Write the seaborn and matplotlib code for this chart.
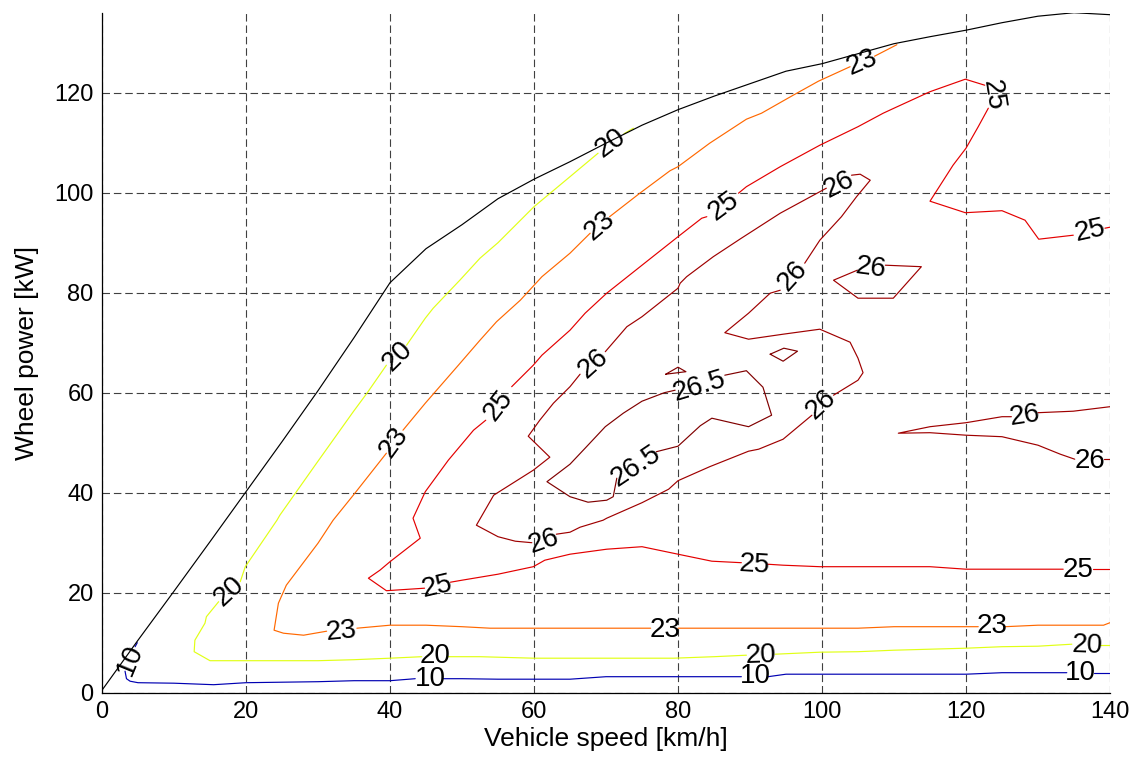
import numpy as np
import pandas as pd
import matplotlib
matplotlib.use("Agg")
import matplotlib.pyplot as plt
from matplotlib import colors as mcolors
import seaborn as sns

# ---------------- data ----------------
SPEED_LIM = [0, 140]
POWER_LIM = [0, 136]
X_TICKS = [0, 20, 40, 60, 80, 100, 120, 140]
Y_TICKS = [0, 20, 40, 60, 80, 100, 120]
X_LABEL = "Vehicle speed [km/h]"
Y_LABEL = "Wheel power [kW]"
LEVELS = [10, 20, 23, 25, 26, 26.5]
COLOR_RANGE = [9.2, 26.5]

# maximum wheel power curve
BOUND_X = [0, 5, 10, 15, 20, 25, 30, 35, 40, 45, 50, 55, 60, 65, 70, 75, 80,
           85, 90, 95, 100, 105, 110, 115, 120, 125, 130, 135, 140]
BOUND_Y = [0.5, 10.5, 20.3, 30.2, 40.2, 50.2, 60.4, 71.0, 82.0, 88.8, 93.6,
           98.8, 102.7, 106.2, 109.9, 113.5, 116.6, 119.3, 121.8, 124.3,
           125.8, 127.8, 129.8, 131.2, 132.5, 134.0, 135.3, 136.0, 135.6]

# contour pieces (vertices of each iso-efficiency line, broken where labelled)
C10 = [
    [(4.9, 10.0), (4.6, 9.2)],
    [(3.2, 4.3), (3.4, 2.8), (3.9, 2.3), (5, 2.0), (10, 1.9), (15.5, 1.6), (20, 2.0),
     (25, 2.1), (30, 2.2), (35, 2.4), (40, 2.4), (43.5, 2.8)],
    [(47.4, 2.8), (50, 2.8), (55, 2.7), (60, 2.7), (65, 2.7), (70, 3.2), (75, 3.2),
     (80, 3.2), (85, 3.2), (88.8, 3.2)],
    [(92.5, 3.2), (95, 3.7), (100, 3.7), (105, 3.7), (110, 3.7), (115, 3.7), (120, 3.7),
     (125, 4.0), (130, 4.0), (134, 4.0)],
    [(137.8, 4.0), (140, 4.0)],
]
C10_LABELS = [(3.9, 6.6), (45.6, 2.7), (90.7, 3.3), (135.9, 4.0)]

C20 = [
    [(73.8, 112.9), (72.5, 111.8)],
    [(68.9, 107.9), (65, 103.2), (60, 97.2), (55, 90.0), (52.5, 86.9), (49.7, 82.5),
     (46, 76.9), (44.9, 74.9), (42.3, 69.5)],
    [(39.5, 65.5), (36.8, 59.9), (34.9, 56.2), (29.8, 45.9), (24.7, 35.5), (24.3, 34.5),
     (19.9, 25.2), (19.2, 22.2)],
    [(16.2, 18.2), (14.5, 15.2), (14.3, 13.9), (12.9, 10.5), (12.8, 8.2), (15, 6.4),
     (20, 6.4), (25, 6.4), (30, 6.4), (35, 6.6), (40, 6.9), (44.4, 7.2)],
    [(48.1, 7.2), (52.5, 7.2), (60, 6.9), (70, 6.9), (79.4, 6.9), (85, 7.2), (89.5, 7.5)],
    [(93.5, 7.7), (99.7, 8.1), (105, 8.2), (110, 8.5), (120, 8.9), (125, 9.2),
     (130, 9.3), (134.7, 9.7)],
    [(138.6, 9.5), (140, 9.5)],
]
C20_LABELS = [(70.7, 109.9), (41.0, 67.3), (17.6, 20.2), (46.3, 7.4), (91.5, 7.4),
              (136.8, 9.4)]

C23 = [
    [(110.4, 129.6), (107.3, 127.3)],
    [(103.9, 125.2), (99.5, 122.3), (96, 119.5), (91.6, 115.9), (89.5, 114.7),
     (84.4, 109.9), (80, 105.2), (78.9, 104.4), (74.7, 99.9), (70.5, 95.2)],
    [(67.8, 91.9), (65, 87.9), (61.1, 83.2), (58.1, 78.5), (54.8, 74.2), (52.5, 70.5),
     (49.5, 65.5), (44.9, 57.9), (41.8, 52.5)],
    [(39.5, 47.9), (34.9, 39.5), (32.1, 34.5), (30, 29.9), (25.6, 21.5), (24.5, 17.9),
     (23.9, 12.5), (25.2, 11.9), (28, 11.5), (31.2, 12.3)],
    [(35.4, 12.9), (40, 13.5), (45, 13.5), (50, 13.2), (53.9, 12.9), (60, 12.9),
     (70, 12.9), (76.2, 12.9)],
    [(80, 12.9), (90, 12.9), (100, 12.9), (105, 12.9), (110, 13.2), (115, 13.2),
     (121.7, 13.2)],
    [(125.4, 13.2), (130, 13.5), (135, 13.5), (139.1, 13.5), (140, 14.0)],
]
C23_LABELS = [(105.6, 126.1), (69.2, 93.4), (40.6, 50.0), (33.3, 12.2), (78.2, 12.6),
              (123.6, 13.3)]

C25 = [
    [(140, 93.1), (139.3, 92.9)],
    [(134.9, 91.5), (130.1, 90.7), (128.2, 94.5), (125, 96.4), (119.9, 96.0),
     (115, 98.3), (118.2, 105.5), (120, 108.9), (121.7, 113.2), (123.1, 116.9)],
    [(122.6, 121.5), (119.9, 122.7), (115, 120.2), (110, 116.9), (108.5, 115.9),
     (105, 113.2), (99.7, 109.5), (94.2, 105.2), (89.5, 101.2), (88.4, 99.9)],
    [(84.0, 95.2), (83.3, 94.9), (80, 91.2), (75, 85.5), (70.1, 79.9), (67.1, 75.9),
     (65, 72.5), (61.1, 67.5), (59.9, 65.5), (56.9, 61.2)],
    [(53.3, 54.5), (51.6, 52.5), (48.1, 46.5), (44.9, 40.2), (43.2, 34.9), (44.2, 30.9),
     (40, 26.2), (38.6, 24.5), (37, 22.9), (39.5, 20.4), (44.8, 20.9)],
    [(48.4, 22.1), (50, 22.5), (55, 23.7), (59.9, 25.2), (61.5, 26.5), (65, 27.7),
     (70.1, 28.7), (75, 29.2), (80, 27.7), (84.7, 26.3), (88.8, 26.0)],
    [(92.4, 25.7), (94.6, 25.5), (99.7, 25.2), (105, 25.2), (110, 25.2), (115, 25.2),
     (120, 24.7), (125, 24.7), (130, 24.7), (133.5, 24.7)],
    [(137.7, 24.7), (140, 24.7)],
]
C25_LABELS = [(137.2, 92.3), (123.8, 119.6), (86.3, 97.4), (55.1, 57.5), (46.6, 21.3),
              (90.6, 25.5), (135.6, 24.5)]

C26 = [
    [(63.1, 31.7), (65, 32.1), (66.4, 33.1), (69.6, 34.5), (70.1, 34.9), (75, 38.0),
     (78.7, 40.7), (80, 42.4), (84.4, 45.2), (89.8, 48.3), (91.2, 48.7), (94.6, 50.7),
     (98.6, 55.5)],
    [(101.6, 59.5), (105, 62.5), (105.7, 64.0), (105, 66.9), (103.9, 70.1), (99.7, 72.7),
     (94.6, 71.7), (89.8, 70.7), (86.5, 72.0), (89.8, 75.9), (92.8, 79.9), (94.2, 80.5)],
    [(97.6, 85.9), (99.7, 90.5), (102.7, 95.2), (104.8, 99.2), (106.7, 102.5),
     (105.3, 103.7), (104.1, 103.5)],
    [(100.6, 100.9), (94.2, 95.9), (88.8, 90.9), (84.9, 87.2), (81.2, 83.2), (80.3, 81.9),
     (80, 80.9), (75, 75.2), (72.9, 73.2), (69.9, 68.2)],
    [(66.4, 63.7), (65, 61.2), (62.7, 57.9), (60.8, 54.5), (59.2, 51.3), (62.2, 47.1),
     (59.9, 44.5), (54.4, 39.5), (52, 33.5), (55, 31.2), (57.4, 30.3), (59.7, 30.0)],
    [(104.9, 84.5), (101.6, 82.5), (105, 78.9), (109.9, 78.9), (113.8, 85.2),
     (108.8, 85.5)],
    [(140, 57.2), (134.9, 56.3), (130, 56.0)],
    [(126.3, 55.2), (125, 55.2), (120, 54.0), (115, 53.2), (110.6, 51.9), (115, 52.0),
     (120, 51.5), (125, 51.2), (130, 49.5), (133.1, 47.7), (135.1, 46.7)],
    [(139.1, 46.7), (140, 46.7)],
]
C26_LABELS = [(61.4, 30.3), (99.9, 57.6), (95.9, 83.3), (102.4, 101.6), (68.2, 65.9),
              (106.8, 85.0), (128.2, 55.4), (137.2, 46.3)]

C265 = [
    [(86.5, 63.5), (89.5, 64.4), (91.8, 61.1), (93, 55.5), (89.8, 53.2), (84.7, 54.9),
     (83.1, 53.4), (80, 49.3), (77, 48.2)],
    [(71.5, 42.9), (71, 39.2), (70.1, 38.5), (67.5, 38.1), (65, 39.2), (61.8, 42.2),
     (65, 45.7), (67.1, 48.9), (69.9, 53.2), (72.4, 55.9), (75, 58.3), (78.1, 60.0),
     (79.6, 60.5)],
]
C265_LABELS = [(74.2, 45.3), (83.0, 61.3)]
C265_ISLANDS = [
    [(78.3, 63.7), (80, 65.1), (81.1, 64.2), (78.3, 63.7)],
    [(92.8, 67.7), (94.7, 68.9), (96.6, 68.3), (94.6, 66.3), (92.8, 67.7)],
]

CONTOURS = {10: (C10, [], C10_LABELS), 20: (C20, [], C20_LABELS),
            23: (C23, [], C23_LABELS), 25: (C25, [], C25_LABELS),
            26: (C26, [], C26_LABELS), 26.5: (C265, C265_ISLANDS, C265_LABELS)}

# ---------------- style ----------------
sns.set_theme(style="white")
FONT = ["Liberation Sans", "DejaVu Sans"]
plt.rcParams["font.family"] = FONT
plt.rcParams["lines.scale_dashes"] = False
plt.rcParams["text.color"] = "black"
plt.rcParams["axes.labelcolor"] = "black"
plt.rcParams["xtick.color"] = "black"
plt.rcParams["ytick.color"] = "black"

fig = plt.figure(figsize=(11.4, 7.65), dpi=100)
ax = fig.add_axes([102 / 1140, (765 - 692.7) / 765, 1008 / 1140, 680 / 765])
ax.set_xlim(*SPEED_LIM)
ax.set_ylim(*POWER_LIM)

cmap = plt.get_cmap("jet")
norm = mcolors.Normalize(*COLOR_RANGE)
palette = {f"{lv:g}": cmap(norm(lv)) for lv in LEVELS}

rows = []
pid = 0
for lv, (pieces, islands, _) in CONTOURS.items():
    for piece in pieces + islands:
        for i, (px, py) in enumerate(piece):
            rows.append({"level": f"{lv:g}", "piece": pid, "order": i, "x": px, "y": py})
        pid += 1
df = pd.DataFrame(rows)

sns.lineplot(data=df, x="x", y="y", hue="level", units="piece", estimator=None,
             sort=False, palette=palette, legend=False, linewidth=0.85, ax=ax)
sns.lineplot(x=BOUND_X, y=BOUND_Y, color="black", sort=False, estimator=None,
             linewidth=0.85, ax=ax)

# grid and axes
ax.grid(True, color="#404040", linestyle=(0, (5.4, 2.8)), linewidth=0.8)
for s in ["top", "right"]:
    ax.spines[s].set_visible(False)
for s in ["left", "bottom"]:
    ax.spines[s].set_color("black")
    ax.spines[s].set_linewidth(0.9)
ax.set_xticks(X_TICKS)
ax.set_yticks(Y_TICKS)
ax.tick_params(direction="in", length=6.5, width=0.7, colors="black",
               labelcolor="black", labelsize=17, pad=6)
ax.set_xlabel(X_LABEL, fontsize=19, labelpad=3, color="black")
ax.set_ylabel(Y_LABEL, fontsize=19, labelpad=11, color="black")

# contour labels, rotated along their line
fig.canvas.draw()
T = ax.transData


def label_angle(pieces, x, y):
    p0 = T.transform((x, y))
    ends = []
    for k, piece in enumerate(pieces):
        for e in (piece[0], piece[-1]):
            d = np.hypot(*(T.transform(e) - p0))
            ends.append((d, k, e))
    ends.sort(key=lambda t: t[0])
    first = ends[0]
    second = next(t for t in ends[1:] if t[1] != first[1])
    a = T.transform(first[2])
    b = T.transform(second[2])
    ang = np.degrees(np.arctan2(b[1] - a[1], b[0] - a[0]))
    while ang > 90:
        ang -= 180
    while ang <= -90:
        ang += 180
    return ang


for lv, (pieces, islands, labels) in CONTOURS.items():
    for (lx, ly) in labels:
        ang = label_angle(pieces, lx, ly)
        ax.text(lx, ly, f"{lv:g}", rotation=ang, rotation_mode="anchor",
                ha="center", va="center", fontsize=20, color="black")

fig.savefig("out.png", dpi=100)
